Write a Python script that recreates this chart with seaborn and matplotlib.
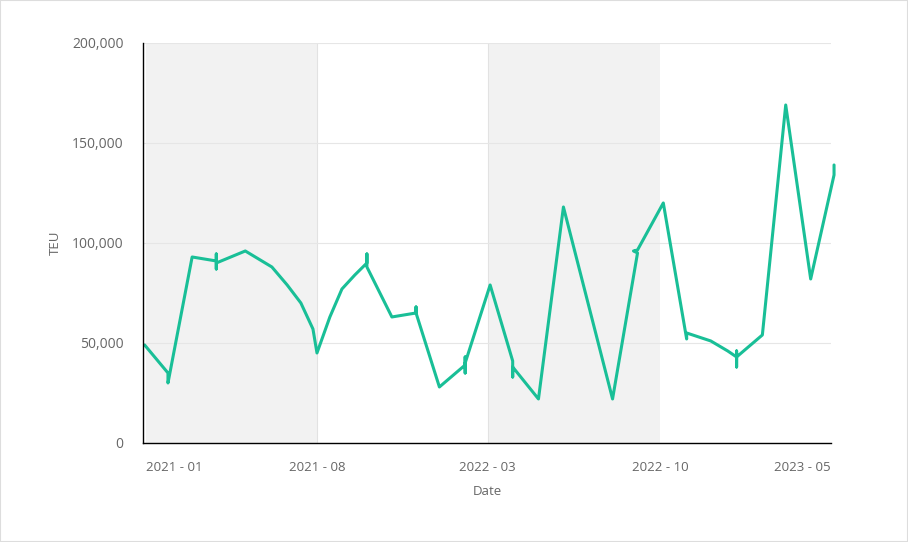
import seaborn as sns
import matplotlib.pyplot as plt
import matplotlib.ticker as mticker
import pandas as pd

dates = ["2020-12-30", "2021-01-28", "2021-01-28", "2021-02-27", "2021-03-29", "2021-03-29",
         "2021-03-29", "2021-03-29", "2021-05-04", "2021-06-06", "2021-06-25", "2021-07-12",
         "2021-07-27", "2021-08-01", "2021-08-17", "2021-09-01", "2021-09-17", "2021-10-02",
         "2021-10-02", "2021-10-02", "2021-11-02", "2021-12-02", "2021-12-02", "2021-12-02",
         "2021-12-31", "2022-02-01", "2022-02-01", "2022-02-01", "2022-02-01", "2022-03-04",
         "2022-04-01", "2022-04-01", "2022-04-01", "2022-05-03", "2022-06-03", "2022-08-03",
         "2022-09-03", "2022-08-29", "2022-09-03", "2022-10-05", "2022-11-03", "2022-11-03",
         "2022-12-03", "2022-12-24", "2023-01-04", "2023-01-04", "2023-01-04", "2023-01-04",
         "2023-02-05", "2023-03-06", "2023-04-06", "2023-05-05", "2023-05-05"]
teu = [49000, 35000, 30000, 93000, 91000, 94500,
       87000, 90000, 96000, 88000, 79000, 70000,
       57000, 45000, 63000, 77000, 84000, 90000,
       94500, 88000, 63000, 65000, 68000, 65000,
       28000, 39000, 43000, 35000, 40000, 79000,
       41000, 33000, 38000, 22000, 118000, 22000,
       95000, 96000, 96500, 120000, 52000, 55000,
       51000, 46000, 43000, 46000, 38000, 43000,
       54000, 169000, 82000, 134000, 139000]

tick_dates = ["2021-01-01", "2021-08-01", "2022-03-01", "2022-10-01", "2023-05-01"]
tick_labels = ["2021 - 01", "2021 - 08", "2022 - 03", "2022 - 10", "2023 - 05"]
bands = [("2021-01-01", "2021-08-01"), ("2022-03-01", "2022-10-01")]

df = pd.DataFrame({"Date": pd.to_datetime(dates), "TEU": teu})

sns.set_style("white")
plt.rcParams['font.family'] = ['Open Sans', 'DejaVu Sans']

fig = plt.figure(figsize=(9.08, 5.42), dpi=100)
# 0 at y=443 px, 200,000 at y=43 px
ax = fig.add_axes([0.1575, 0.1827, 0.7575, 0.7380])

x0 = pd.Timestamp("2020-12-28")
x1 = pd.Timestamp("2023-05-01")
for a, b in bands:
    ax.axvspan(pd.Timestamp(a), pd.Timestamp(b), color="#f2f2f2", lw=0, zorder=0)
for d in ["2021-08-01", "2022-03-01"]:
    ax.axvline(pd.Timestamp(d), color="#e2e2e2", lw=0.8, zorder=0.5)

ax.yaxis.grid(True, color="#e6e6e6", lw=0.8)
ax.set_axisbelow(True)

sns.lineplot(data=df, x="Date", y="TEU", estimator=None, sort=False,
             color="#19bf97", lw=2.2, ax=ax, clip_on=False)

ax.set_xlim(x0, x1)
ax.set_ylim(0, 200000)
ax.yaxis.set_major_locator(mticker.MultipleLocator(50000))
ax.yaxis.set_major_formatter(mticker.FuncFormatter(lambda v, p: f"{int(v):,}"))
ax.set_xticks(pd.to_datetime(tick_dates))
ax.set_xticklabels(tick_labels)
xl = ax.get_xticklabels()
xl[0].set_ha("left")
xl[-1].set_ha("right")

ax.tick_params(axis="both", length=0, labelcolor="#666666")
ax.tick_params(axis="x", pad=13, labelsize=9.5)
ax.tick_params(axis="y", pad=14, labelsize=10)
ax.set_xlabel("Date", fontsize=9.5, color="#666666", labelpad=8)
ax.set_ylabel("TEU", fontsize=9.5, color="#666666", labelpad=7)

for s in ["top", "right"]:
    ax.spines[s].set_visible(False)
for s in ["left", "bottom"]:
    ax.spines[s].set_color("#000000")
    ax.spines[s].set_linewidth(1.0)

fig.patches.append(plt.Rectangle((0, 0), 1, 1, transform=fig.transFigure,
                                 fill=False, edgecolor="#dddddd", lw=1.5))

fig.savefig("out.png", dpi=100)
